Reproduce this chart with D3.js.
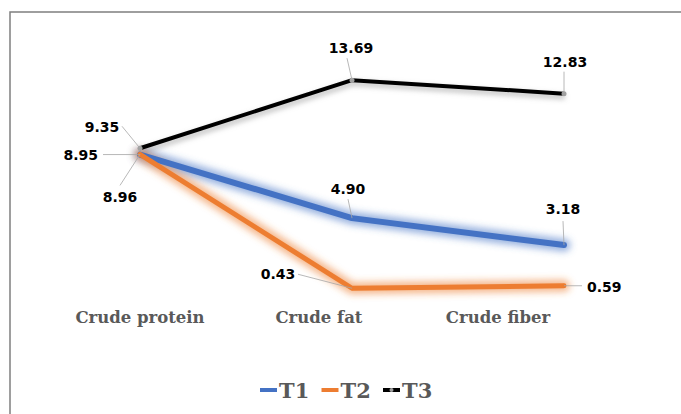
<!DOCTYPE html>
<html><head><meta charset="utf-8">
<script src="https://cdn.jsdelivr.net/npm/d3@7"></script>
<style>body{margin:0;background:#fff}svg{display:block}</style>
</head><body>
<svg id="c" width="681" height="414"></svg>
<script>
const categories = ["Crude protein", "Crude fat", "Crude fiber"];
const seriesNames = ["T1", "T2", "T3"];
const T1 = [8.95, 4.90, 3.18];
const T2 = [8.96, 0.43, 0.59];
const T3 = [9.35, 13.69, 12.83];

const colors = {T1: "#4472C4", T2: "#ED7D31", T3: "#000000"};
const widths = {T1: 6, T2: 5, T3: 4};
const labelCfg = {
  T1: [{dx: -42, dy: 1, a: "end", lx: -37, ly: 0}, {dx: -4, dy: -29, a: "middle", lx: -4, ly: -19}, {dx: -1, dy: -36, a: "middle", lx: -1, ly: -24}],
  T2: [{dx: -20, dy: 43, a: "middle", lx: -20, ly: 31}, {dx: -74, dy: -14, a: "middle", lx: -54, ly: -14}, {dx: 23, dy: 1, a: "start", lx: 18, ly: 0}],
  T3: [{dx: -38, dy: -21, a: "middle", lx: -18, ly: -22}, {dx: -1, dy: -32, a: "middle", lx: -5, ly: -22}, {dx: 1, dy: -32, a: "middle", lx: 0, ly: -22}]
};

const svg = d3.select("#c");
const defs = svg.append("defs");
seriesNames.forEach(s => {
  const f = defs.append("filter").attr("id", "glow" + s).attr("x", "-20%").attr("y", "-50%").attr("width", "140%").attr("height", "200%");
  f.append("feGaussianBlur").attr("in", "SourceGraphic").attr("stdDeviation", s === "T3" ? 2.5 : 3.5).attr("result", "b");
});

svg.append("rect").attr("x", 10).attr("y", 12).attr("width", 700).attr("height", 420)
  .attr("fill", "none").attr("stroke", "#7f7f7f").attr("stroke-width", 1.5);

const x = d3.scalePoint().domain(categories).range([140, 564]);
const xl = d3.scalePoint().domain(categories).range([140, 498]);
const y = d3.scaleLinear().domain([0, 14]).range([295, 75.3]);

const data = {T1, T2, T3};
const line = d3.line().x((d, i) => x(categories[i])).y(d => y(d));

["T3", "T1", "T2"].forEach(s => {
  if (s === "T3") {
    svg.append("path").attr("d", line(data[s])).attr("transform", "translate(1,3)").attr("fill", "none")
      .attr("stroke", "#999").attr("stroke-opacity", 0.5).attr("stroke-width", 6)
      .attr("filter", "url(#glow" + s + ")");
  } else {
    svg.append("path").attr("d", line(data[s])).attr("fill", "none")
      .attr("stroke", colors[s]).attr("stroke-opacity", 0.55).attr("stroke-width", widths[s] + 7)
      .attr("stroke-linecap", "round").attr("stroke-linejoin", "round")
      .attr("filter", "url(#glow" + s + ")");
  }
});
["T3", "T1", "T2"].forEach(s => {
  svg.append("path").attr("d", line(data[s])).attr("fill", "none")
    .attr("stroke", colors[s]).attr("stroke-width", widths[s])
    .attr("stroke-linecap", s === "T3" ? "butt" : "round").attr("stroke-linejoin", "round");
  svg.append("g").selectAll("circle").data(data[s]).join("circle")
    .attr("cx", (d, i) => x(categories[i])).attr("cy", d => y(d)).attr("r", s === "T3" ? 2.5 : 2)
    .attr("fill", s === "T3" ? "#a0a0a0" : colors[s]);
});

seriesNames.forEach(s => {
  data[s].forEach((v, i) => {
    const px = x(categories[i]), py = y(v), c = labelCfg[s][i];
    svg.append("line").attr("x1", px + c.lx).attr("y1", py + c.ly).attr("x2", px).attr("y2", py)
      .attr("stroke", "#a6a6a6").attr("stroke-width", 0.8);
    svg.append("text").attr("x", px + c.dx).attr("y", py + c.dy).attr("dy", "0.35em")
      .attr("text-anchor", c.a).attr("font-family", "DejaVu Sans, sans-serif")
      .attr("font-weight", "bold").attr("font-size", 14).attr("fill", "#000").text(v.toFixed(2));
  });
});

svg.append("g").selectAll("text").data(categories).join("text")
  .attr("x", d => xl(d)).attr("y", 323).attr("text-anchor", "middle")
  .attr("font-family", "DejaVu Serif, serif").attr("font-weight", "bold").attr("font-size", 16.5)
  .attr("fill", "#595959").text(d => d);

const lx = d3.scalePoint().domain(seriesNames).range([260, 383]);
const lg = svg.append("g").selectAll("g").data(seriesNames).join("g")
  .attr("transform", d => `translate(${lx(d)},390)`);
lg.append("line").attr("x1", 0).attr("x2", 17).attr("y1", 0).attr("y2", 0)
  .attr("stroke", d => colors[d]).attr("stroke-width", 4);
lg.filter(d => d === "T3").append("circle").attr("cx", 8.5).attr("cy", 0).attr("r", 2).attr("fill", "#a0a0a0");
lg.append("text").attr("x", 19).attr("y", 7.5)
  .attr("font-family", "DejaVu Serif, serif").attr("font-weight", "bold").attr("font-size", 21)
  .attr("fill", "#595959").text(d => d);
</script>
</body></html>
